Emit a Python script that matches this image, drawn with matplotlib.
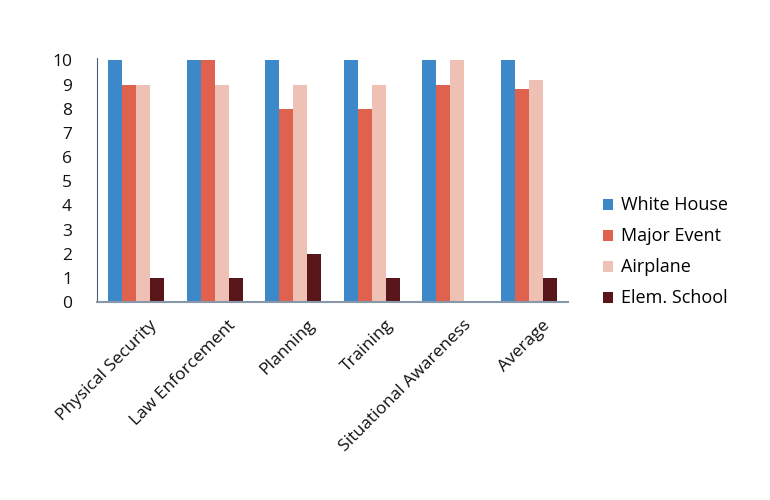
import matplotlib.pyplot as plt
import matplotlib.transforms as mtransforms
import numpy as np

categories = ['Physical Security', 'Law Enforcement', 'Planning', 'Training',
              'Situational Awareness', 'Average']
white_house = [10, 10, 10, 10, 10, 10]
major_event = [9, 10, 8, 8, 9, 8.8]
airplane = [9, 9, 9, 9, 10, 9.2]
elem_school = [1, 1, 2, 1, 0, 1]

series = [('White House', white_house, '#3d88c9'),
          ('Major Event', major_event, '#df624e'),
          ('Airplane', airplane, '#eec1b4'),
          ('Elem. School', elem_school, '#58161a')]

plt.rcParams['font.family'] = ['Open Sans', 'DejaVu Sans']

fig = plt.figure(figsize=(7.7, 5), dpi=100)
ax = fig.add_axes([0.126, 0.396, 0.612, 0.488])

x = np.arange(len(categories))
w = 0.178
for i, (name, vals, col) in enumerate(series):
    ax.bar(x + (i - 1.5) * w, vals, w, color=col, label=name)

ax.set_xlim(-0.5, len(categories) - 0.5)
ax.set_ylim(0, 10.1)
ax.set_yticks(range(0, 11))
ax.set_xticks(x)
ax.set_xticklabels(categories, rotation=45, ha='right', rotation_mode='anchor', fontsize=12.5)
ax.tick_params(axis='both', length=0, colors='#111111')
ax.tick_params(axis='y', pad=18, labelsize=12.5)
ax.tick_params(axis='x', pad=11)

# shift the rotated labels to the right like in the original
offset = mtransforms.ScaledTranslation(13 / 100, 0, fig.dpi_scale_trans)
for lbl in ax.get_xticklabels():
    lbl.set_transform(lbl.get_transform() + offset)

for s in ['top', 'right']:
    ax.spines[s].set_visible(False)
ax.spines['left'].set_color('#44607a')
ax.spines['bottom'].set_color('#8898a8')
ax.spines['bottom'].set_linewidth(1.5)

ax.legend(loc='center left', bbox_to_anchor=(1.039, 0.205), frameon=False, fontsize=13,
          handlelength=0.55, handleheight=0.55, handletextpad=0.45, labelspacing=0.72)

fig.savefig('out.png')
